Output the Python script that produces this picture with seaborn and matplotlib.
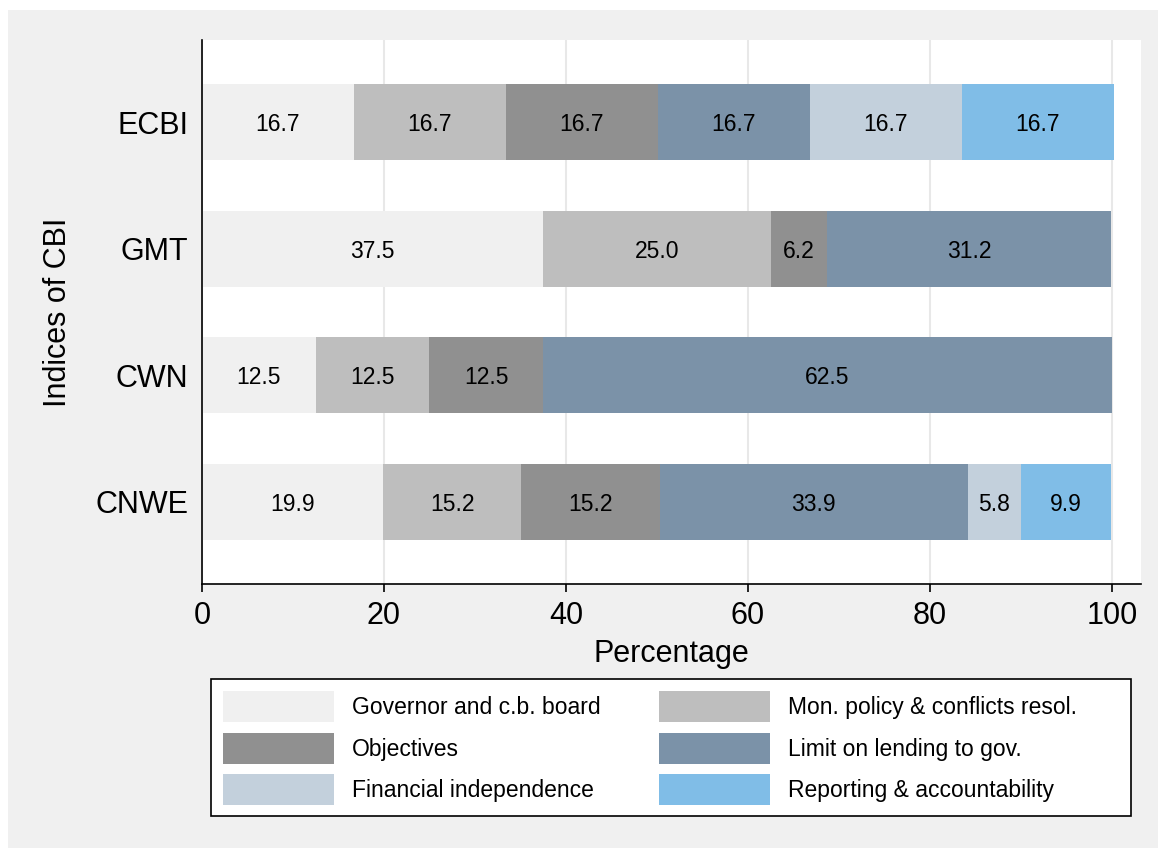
import matplotlib
matplotlib.use("Agg")
import matplotlib.pyplot as plt
from matplotlib.patches import Patch, Rectangle
import numpy as np
import pandas as pd
import seaborn as sns

indices = ["ECBI", "GMT", "CWN", "CNWE"]
components = ["Governor and c.b. board", "Mon. policy & conflicts resol.",
              "Objectives", "Limit on lending to gov.",
              "Financial independence", "Reporting & accountability"]
governor = [16.7, 37.5, 12.5, 19.9]
mon_policy = [16.7, 25.0, 12.5, 15.2]
objectives = [16.7, 6.2, 12.5, 15.2]
limit_lending = [16.7, 31.2, 62.5, 33.9]
financial = [16.7, 0.0, 0.0, 5.8]
reporting = [16.7, 0.0, 0.0, 9.9]
colors = ["#f0f0f0", "#bebebe", "#909090", "#7b92a8", "#c3d0dc", "#80bde7"]

series = [governor, mon_policy, objectives, limit_lending, financial, reporting]

sns.set_style("white")
plt.rcParams["font.family"] = ["Liberation Sans", "DejaVu Sans"]
plt.rcParams["text.color"] = "black"
plt.rcParams["axes.labelcolor"] = "black"
plt.rcParams["xtick.color"] = "black"
plt.rcParams["ytick.color"] = "black"

fig = plt.figure(figsize=(11.58, 8.48), dpi=100)
fig.patch.set_facecolor("white")
fig.patches.append(Rectangle((8 / 1158, 0), 1 - 8 / 1158, 838 / 848,
                             transform=fig.transFigure, facecolor="#f0f0f0",
                             edgecolor="none", zorder=-10))

ax = fig.add_axes([202 / 1158, 1 - 584 / 848, (1141 - 202) / 1158, (584 - 40) / 848])
ax.set_facecolor("white")

data = np.array(series)  # shape (6, 4)
cum = np.cumsum(data, axis=0)

# draw from the longest cumulative layer to the shortest
for k in range(len(series) - 1, -1, -1):
    df = pd.DataFrame({"index": indices, "value": cum[k]})
    sns.barplot(data=df, x="value", y="index", orient="h", color=colors[k],
                saturation=1, width=0.6, ax=ax, zorder=2, linewidth=0)

# segment labels
for k in range(len(series)):
    for i, name in enumerate(indices):
        v = data[k, i]
        if v > 0:
            start = cum[k, i] - v
            ax.text(start + v / 2, i, f"{v:.1f}", ha="center", va="center_baseline",
                    fontsize=16.5, color="black", zorder=5)

ax.set_xlim(0, 103.2)
ax.set_ylim(3.65, -0.65)
ax.set_xticks([0, 20, 40, 60, 80, 100])
ax.grid(axis="x", color="#e8e8e8", linewidth=1.5, zorder=0)
ax.grid(axis="y", visible=False)
ax.set_axisbelow(True)
for s in ["top", "right"]:
    ax.spines[s].set_visible(False)
for s in ["left", "bottom"]:
    ax.spines[s].set_color("black")
    ax.spines[s].set_linewidth(1.2)
ax.tick_params(axis="x", length=6, width=1.2, color="black", pad=6, labelsize=22,
               direction="out", bottom=True, labelcolor="black")
ax.tick_params(axis="y", length=0, pad=10, labelsize=22, left=False, labelcolor="black")
ax.set_xlabel("Percentage", fontsize=22, labelpad=6, color="black")
ax.set_ylabel("Indices of CBI", fontsize=22, labelpad=16, color="black")

handles = [Patch(facecolor=c, edgecolor="none") for c in colors]
order = [0, 2, 4, 1, 3, 5]
leg = fig.legend([handles[j] for j in order], [components[j] for j in order],
                 ncol=2, loc="upper left", bbox_to_anchor=(223 / 1158, 1 - 691 / 848),
                 frameon=False, fontsize=16.5, borderpad=0, borderaxespad=0,
                 handlelength=4.85, handleheight=1.706, handletextpad=0.79,
                 labelspacing=0.46, columnspacing=2.53)
for t in leg.get_texts():
    t.set_color("black")
fig.patches.append(Rectangle((211 / 1158, 1 - 816 / 848), 920 / 1158, 137 / 848,
                             transform=fig.transFigure, facecolor="white",
                             edgecolor="black", linewidth=1.2, zorder=-5))

fig.savefig("out.png", dpi=100, facecolor=fig.get_facecolor())
